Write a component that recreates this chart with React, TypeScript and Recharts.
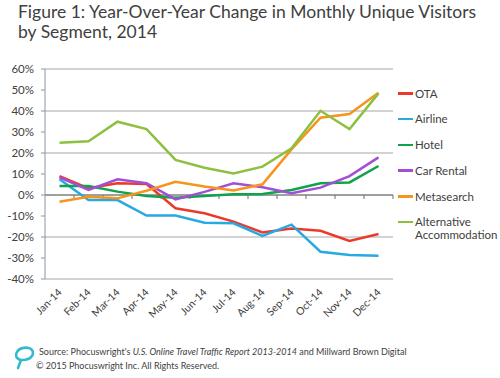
import React from "react";
import { LineChart, Line, XAxis, YAxis, CartesianGrid, Legend, ReferenceLine } from "recharts";

const months = ["Jan-14", "Feb-14", "Mar-14", "Apr-14", "May-14", "Jun-14", "Jul-14", "Aug-14", "Sep-14", "Oct-14", "Nov-14", "Dec-14"];
const ota = [9.0, 3.2, 5.6, 5.2, -6.3, -8.7, -12.7, -17.8, -15.9, -17.0, -21.9, -18.6];
const airline = [7.5, -2.4, -2.4, -9.8, -9.8, -13.2, -13.5, -19.5, -14.1, -27.0, -28.6, -28.9];
const hotel = [4.3, 4.3, 1.6, -0.5, -1.3, -0.5, 0.3, 0.5, 2.4, 5.6, 6.0, 13.8];
const carRental = [8.4, 2.4, 7.5, 5.6, -2.1, 1.5, 5.6, 3.7, 0.8, 3.5, 9.0, 17.9];
const metasearch = [-3.2, -0.8, -1.6, 2.0, 6.3, 4.0, 2.1, 5.1, 21.7, 36.8, 38.6, 48.7];
const altAccommodation = [24.9, 25.6, 34.9, 31.4, 16.7, 13.0, 10.3, 13.5, 22.2, 40.1, 31.4, 48.4];
const yTicks = [-40, -30, -20, -10, 0, 10, 20, 30, 40, 50, 60];

const series = [
  { key: "ota", name: "OTA", color: "#ec3a2a", values: ota },
  { key: "airline", name: "Airline", color: "#27a9e1", values: airline },
  { key: "hotel", name: "Hotel", color: "#0fa34b", values: hotel },
  { key: "carRental", name: "Car Rental", color: "#a24fd6", values: carRental },
  { key: "metasearch", name: "Metasearch", color: "#f7941d", values: metasearch },
  { key: "alt", name: "Alternative Accommodation", color: "#8dc041", values: altAccommodation },
];

const data = months.map((m, i) => {
  const row: Record<string, number | string> = { month: m };
  series.forEach((s) => (row[s.key] = s.values[i]));
  return row;
});

const FONT = "Lato, 'DejaVu Sans', sans-serif";
const TEXT = "#404040";

const MonthTick = (props: any) => {
  const { x, y, payload } = props;
  return (
    <g transform={`translate(${x + 3},${y + 6})`}>
      <text transform="rotate(-45)" textAnchor="end" fontSize={10.5} fill={TEXT} fontFamily={FONT}>
        {payload.value}
      </text>
    </g>
  );
};

const ZeroLine = (props: any) => {
  const { x1, x2, y1 } = props;
  const step = (x2 - x1) / months.length;
  return (
    <g>
      <line x1={x1} x2={x2} y1={y1} y2={y1} stroke="#6d6d6d" strokeWidth={1} />
      {months.map((m, i) => (
        <line key={m} x1={x1 + step * (i + 1)} x2={x1 + step * (i + 1)} y1={y1} y2={y1 + 4} stroke="#6d6d6d" strokeWidth={1} />
      ))}
    </g>
  );
};

const LegendList = () => (
  <div style={{ fontFamily: FONT, fontSize: 11.5, color: TEXT, width: 102 }}>
    {series.map((s) => (
      <div key={s.key} style={{ display: "flex", alignItems: "flex-start", marginBottom: 12.8, lineHeight: "13px" }}>
        <span style={{ display: "inline-block", width: 15, height: 2.5, background: s.color, marginTop: 5.5, marginRight: 2, flexShrink: 0 }} />
        <span style={{ width: 85 }}>{s.name}</span>
      </div>
    ))}
  </div>
);

export default function App() {
  return (
    <div style={{ position: "absolute", left: 0, top: 0, width: 500, height: 378, background: "#fff", fontFamily: FONT }}>
      <div style={{ position: "absolute", left: 18, top: 2, fontSize: 17.5, lineHeight: "20px", color: TEXT, width: 482 }}>
        Figure 1: Year-Over-Year Change in Monthly Unique Visitors<br />by Segment, 2014
      </div>
      <LineChart width={500} height={378} data={data} margin={{ top: 69, right: 107, left: 5, bottom: 69 }}>
        <CartesianGrid vertical={false} stroke="#c4c4c4" strokeWidth={1.5} />
        <XAxis
          dataKey="month"
          height={30}
          padding={{ left: 14.5, right: 14.5 }}
          axisLine={false}
          tickLine={false}
          interval={0}
          tick={<MonthTick />}
        />
        <YAxis
          width={40}
          domain={[-40, 60]}
          ticks={yTicks}
          tickFormatter={(v) => `${v}%`}
          tick={{ fontSize: 11.5, fill: TEXT, fontFamily: FONT }}
          axisLine={{ stroke: "#8a96a8" }}
          tickLine={{ stroke: "#8a96a8" }}
          tickSize={4}
          tickMargin={7}
        />
        <ReferenceLine y={0} shape={<ZeroLine />} />
        <Legend
          layout="horizontal"
          verticalAlign="middle"
          align="center"
          content={<LegendList />}
          wrapperStyle={{ left: 398, top: 86.5, width: 102 }}
        />
        {series.map((s) => (
          <Line
            key={s.key}
            type="linear"
            dataKey={s.key}
            name={s.name}
            stroke={s.color}
            strokeWidth={2.5}
            dot={false}
            isAnimationActive={false}
          />
        ))}
      </LineChart>
      <svg style={{ position: "absolute", left: 12, top: 344 }} width={24} height={28}>
        <path
          d="M6 24 L9 16 C4 15 3 11 5 8 C7 4 13 3 17 4 C21 5 22 9 20 12 C18 15 14 16 10 16"
          fill="none"
          stroke="#35b9cf"
          strokeWidth={2.6}
          strokeLinecap="round"
        />
      </svg>
      <div style={{ position: "absolute", left: 39, top: 346, fontSize: 9, color: TEXT, whiteSpace: "nowrap" }}>
        Source: Phocuswright's <i>U.S. Online Travel Traffic Report 2013-2014</i> and Millward Brown Digital
      </div>
      <div style={{ position: "absolute", left: 36, top: 360, fontSize: 9, color: TEXT, whiteSpace: "nowrap" }}>
        © 2015 Phocuswright Inc. All Rights Reserved.
      </div>
    </div>
  );
}
